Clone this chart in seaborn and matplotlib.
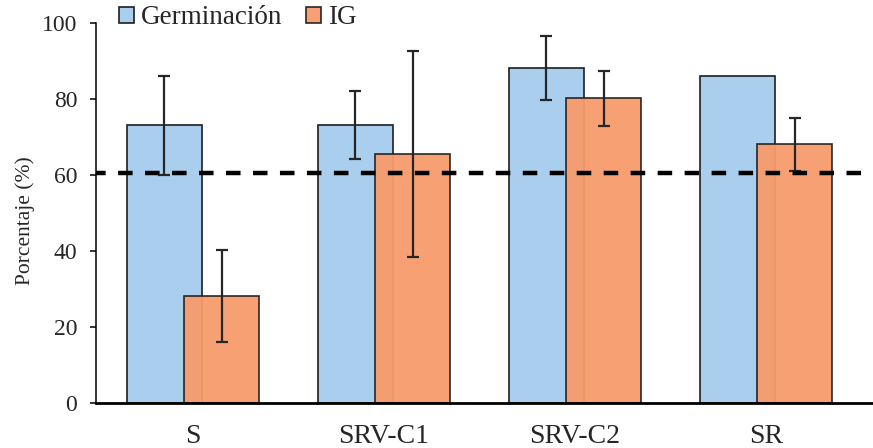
import numpy as np
import pandas as pd
import seaborn as sns
import matplotlib.pyplot as plt

# ---- data ----
categories = ["S", "SRV-C1", "SRV-C2", "SR"]
germinacion = [73.1, 73.1, 88.2, 86.1]
germinacion_err = [13.0, 9.0, 8.4, 0.0]
ig = [28.2, 65.5, 80.1, 68.0]
ig_err = [12.1, 27.1, 7.2, 6.9]
threshold = 60.6
yticks = [0, 20, 40, 60, 80, 100]

blue = "#A9CEEE"
orange = "#F79B6B"

sns.set_theme(style="ticks")
plt.rcParams['font.family'] = ['Liberation Serif', 'DejaVu Serif']

fig = plt.figure(figsize=(8.73, 4.48), dpi=100)
ax = fig.add_axes([96 / 873, 1 - 403.3 / 448, 1 - 96 / 873, (403.3 - 22.7) / 448])

idx = np.arange(len(categories))
offset = 0.15
df_g = pd.DataFrame({"x": idx - offset, "y": germinacion, "err": germinacion_err})
df_i = pd.DataFrame({"x": idx + offset, "y": ig, "err": ig_err})

sns.barplot(data=df_g, x="x", y="y", native_scale=True, width=0.395, color=blue,
            saturation=1, edgecolor="#1e1e1e", linewidth=1.2, errorbar=None,
            label="Germinación", ax=ax, zorder=2)
sns.barplot(data=df_i, x="x", y="y", native_scale=True, width=0.395, color=orange,
            saturation=1, edgecolor="#1e1e1e", linewidth=1.2, errorbar=None,
            alpha=0.95, label="IG", ax=ax, zorder=3)
if ax.get_legend() is not None:
    ax.get_legend().remove()

for d, z in ((df_g, 2.5), (df_i, 3.5)):
    m = d["err"] > 0
    ax.errorbar(d.loc[m, "x"], d.loc[m, "y"], yerr=d.loc[m, "err"], fmt="none",
                ecolor="#262626", elinewidth=1.6, capsize=4, capthick=1.6, zorder=z)

ax.axhline(threshold, color="black", lw=3.2, linestyle=(1.1, (3.27, 2.8)), zorder=5)

ax.set_xlim(-0.508, 3.56)
ax.set_ylim(0, 100)
ax.set_xticks(idx)
ax.set_xticklabels(categories, fontsize=20)
ax.set_yticks(yticks)
ax.set_yticklabels([str(t) for t in yticks], fontsize=17)
ax.tick_params(axis="x", length=0, pad=15)
ax.tick_params(axis="y", length=4.5, width=1.1, pad=9, color="black")
ax.set_xlabel("")
ax.set_ylabel("Porcentaje (%)", fontsize=15.5)
ax.yaxis.set_label_coords(-0.078, 0.48)

for s in ("top", "right"):
    ax.spines[s].set_visible(False)
ax.spines["left"].set_linewidth(1.1)
ax.spines["left"].set_color("black")
ax.spines["bottom"].set_linewidth(2.0)
ax.spines["bottom"].set_color("black")
ax.spines["bottom"].set_zorder(6)

handles, labels = ax.get_legend_handles_labels()
fig.legend(handles, labels, loc="center left", bbox_to_anchor=(119 / 873, 1 - 18 / 448),
           ncol=2, frameon=False, fontsize=19.5, handlelength=0.55, handleheight=0.55,
           handletextpad=0.25, columnspacing=0.9, borderpad=0, borderaxespad=0)

fig.savefig("out.png", dpi=100)
